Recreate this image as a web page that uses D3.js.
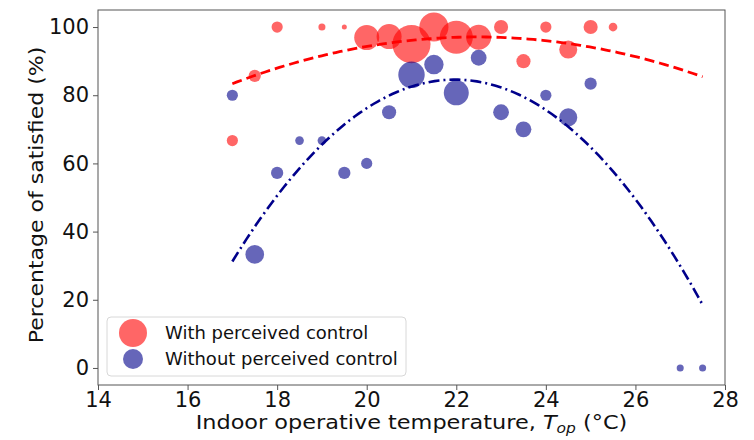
<!DOCTYPE html>
<html>
<head>
<meta charset="utf-8">
<script src="https://cdn.jsdelivr.net/npm/d3@7"></script>
<style>
  html, body { margin: 0; padding: 0; background: #fff; }
  svg { display: block; font-family: "DejaVu Sans", sans-serif; }
</style>
</head>
<body>
<svg id="chart" width="754" height="440"></svg>
<script>
// Satisfaction vs. indoor operative temperature, grouped by perceived control.
// Each bubble: temperature bin (°C), percentage satisfied, number of votes.
const withTemp   = [17, 17.5, 18, 19, 19.5, 20, 20.5, 21, 21.5, 22, 22.5, 23, 23.5, 24, 24.5, 25, 25.5];
const withPct    = [66.7, 85.7, 100, 100, 100, 96.9, 97.2, 95.0, 100, 97.0, 97.0, 100, 90.0, 100, 93.4, 100, 100];
const withCount  = [5, 6, 5, 2, 1, 25, 25, 58, 34, 44, 25, 8, 8, 5, 13, 8, 3];

const withoutTemp  = [17, 17.5, 18, 18.5, 19, 19.5, 20, 20.5, 21, 21.5, 22, 22.5, 23, 23.5, 24, 24.5, 25, 27, 27.5];
const withoutPct   = [80, 33.3, 57.2, 66.7, 66.7, 57.2, 60, 75, 86, 89, 80.7, 91, 75, 70, 80, 73.5, 83.4, 0, 0];
const withoutCount = [5, 14, 6, 3, 3, 6, 5, 8, 28, 15, 25, 10, 10, 10, 5, 13, 6, 2, 2];

// Quadratic fits (a·T² + b·T + c) and the temperature span they cover
const withFit    = [-0.46, 20.663, -134.95];
const withoutFit = [-2.16, 94.91, -958.0];
const fitRange   = [17, 27.5];

const xTicks = [14, 16, 18, 20, 22, 24, 26, 28];
const yTicks = [0, 20, 40, 60, 80, 100];
const seriesNames = ["With perceived control", "Without perceived control"];

const svg = d3.select("#chart");
const margin = { left: 98, right: 29, top: 10, bottom: 55 };
const W = 754, H = 440;

const x = d3.scaleLinear().domain([14, 28]).range([margin.left, W - margin.right]);
const y = d3.scaleLinear().domain([-5, 105]).range([H - margin.bottom, margin.top]);
const r = d3.scaleSqrt().domain([0, 100]).range([0, 25]);

const RED = "red", BLUE = "#00008b";

// Scatter bubbles
function bubbles(temps, pcts, counts, color) {
  svg.append("g").selectAll("circle")
    .data(temps.map((t, i) => ({ t, p: pcts[i], n: counts[i] })))
    .join("circle")
    .attr("cx", d => x(d.t))
    .attr("cy", d => y(d.p))
    .attr("r", d => r(d.n))
    .attr("fill", color)
    .attr("fill-opacity", 0.6);
}
bubbles(withTemp, withPct, withCount, RED);
bubbles(withoutTemp, withoutPct, withoutCount, BLUE);

// Fitted curves
function fitCurve(coef, color, dash, width) {
  const pts = d3.range(0, 101).map(i => {
    const t = fitRange[0] + (fitRange[1] - fitRange[0]) * i / 100;
    return [t, coef[0] * t * t + coef[1] * t + coef[2]];
  });
  svg.append("path")
    .attr("d", d3.line().x(d => x(d[0])).y(d => y(d[1]))(pts))
    .attr("fill", "none")
    .attr("stroke", color)
    .attr("stroke-width", width)
    .attr("stroke-dasharray", dash);
}
fitCurve(withFit, RED, "10,5", 2.8);
fitCurve(withoutFit, BLUE, "11,4,2,4", 2.6);

// Axes
const axisColor = "#555";
const xAxis = svg.append("g")
  .attr("transform", `translate(0,${H - margin.bottom})`)
  .call(d3.axisBottom(x).tickValues(xTicks).tickSize(5).tickPadding(2).tickFormat(d3.format("d")));
const yAxis = svg.append("g")
  .attr("transform", `translate(${margin.left},0)`)
  .call(d3.axisLeft(y).tickValues(yTicks).tickSize(5).tickPadding(4).tickFormat(d3.format("d")));
[xAxis, yAxis].forEach(g => {
  g.select(".domain").remove();
  g.selectAll(".tick line").attr("stroke", axisColor).attr("stroke-width", 1);
  g.selectAll(".tick text").attr("fill", "#111").style("font-size", "21px")
    .style("font-family", "DejaVu Sans, sans-serif");
});

// Plot frame
svg.append("rect")
  .attr("x", margin.left).attr("y", margin.top)
  .attr("width", W - margin.left - margin.right)
  .attr("height", H - margin.top - margin.bottom)
  .attr("fill", "none").attr("stroke", axisColor).attr("stroke-width", 1);

// Axis titles (slightly condensed vertically)
const xt = svg.append("text")
  .attr("transform", `translate(${(margin.left + W - margin.right) / 2},429) scale(1,0.88)`)
  .attr("text-anchor", "middle")
  .attr("fill", "#111")
  .style("font-size", "22.4px");
xt.append("tspan").text("Indoor operative temperature, ");
xt.append("tspan").attr("font-style", "italic").text("T");
xt.append("tspan").attr("font-style", "italic").attr("font-size", "15.5px").attr("dy", 5).text("op");
xt.append("tspan").attr("dy", -5).text(" (°C)");

svg.append("text")
  .attr("transform", `translate(43,195) rotate(-90) scale(1,0.88)`)
  .attr("text-anchor", "middle")
  .attr("fill", "#111")
  .style("font-size", "22px")
  .text("Percentage of satisfied (%)");

// Legend
const lg = svg.append("g");
lg.append("rect")
  .attr("x", 107).attr("y", 317).attr("width", 299).attr("height", 59)
  .attr("rx", 4)
  .attr("fill", "#fff").attr("fill-opacity", 0.8)
  .attr("stroke", "#d8d8d8");
const legendItems = [
  { name: seriesNames[0], color: RED, rad: 14, cy: 333 },
  { name: seriesNames[1], color: BLUE, rad: 10, cy: 359 }
];
legendItems.forEach(d => {
  lg.append("circle").attr("cx", 133).attr("cy", d.cy).attr("r", d.rad)
    .attr("fill", d.color).attr("fill-opacity", 0.6);
  lg.append("text").attr("x", 165).attr("y", d.cy + 6)
    .attr("fill", "#111").style("font-size", "18px").text(d.name);
});
</script>
</body>
</html>
